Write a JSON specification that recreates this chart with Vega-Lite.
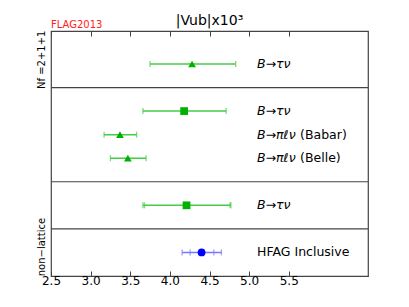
{
  "$schema": "https://vega.github.io/schema/vega-lite/v6.json",
  "autosize": "none",
  "width": 317,
  "height": 245,
  "padding": {"left": 51, "top": 31, "right": 41, "bottom": 31},
  "config": {
    "font": "DejaVu Sans",
    "view": {"stroke": "#444444", "strokeWidth": 1.2},
    "axis": {"labelFont": "DejaVu Sans", "grid": false}
  },
  "title": {"text": "|Vub|x10³", "fontSize": 14, "fontWeight": "normal", "font": "DejaVu Sans", "color": "#000000", "offset": 0, "dy": 8, "anchor": "middle"},
  "datasets": {
    "pts": [
      {"y": 9, "ital": "B→τν", "note": "", "x": 4.28, "lo": 3.75, "hi": 4.83, "series": "tri"},
      {"y": 7, "ital": "B→τν", "note": "", "x": 4.18, "lo": 3.66, "hi": 4.71, "series": "sq"},
      {"y": 6, "ital": "B→πℓν", "note": "(Babar)", "x": 3.37, "lo": 3.17, "hi": 3.58, "series": "tri"},
      {"y": 5, "ital": "B→πℓν", "note": "(Belle)", "x": 3.47, "lo": 3.25, "hi": 3.70, "series": "tri"},
      {"y": 3, "ital": "B→τν", "note": "", "x": 4.21, "lo": 3.66, "hi": 4.77, "lo2": 3.68, "hi2": 4.76, "series": "sq"},
      {"y": 1, "ital": "", "note": "HFAG Inclusive", "x": 4.40, "lo": 4.155, "hi": 4.65, "lo2": 4.256, "hi2": 4.555, "series": "circ"}
    ],
    "seps": [{"y": 2}, {"y": 4}, {"y": 8}]
  },
  "resolve": {"axis": {"x": "independent"}},
  "layer": [
    {
      "data": {"name": "seps"},
      "mark": {"type": "rule", "color": "#444444", "strokeWidth": 1.2},
      "encoding": {
        "y": {"field": "y", "type": "quantitative", "scale": {"domain": [0, 10.4], "nice": false, "zero": false},
          "axis": {"values": [1.25, 3, 6, 9.2], "title": null, "domain": false, "ticks": false, "labelAngle": -90, "labelAlign": "center", "labelBaseline": "bottom", "labelPadding": 5, "labelFontSize": 10, "labelColor": "#000000",
            "labelExpr": "datum.value < 2 ? 'non−lattice' : datum.value == 3 ? 'Nf =2' : datum.value == 6 ? 'Nf =2+1' : 'Nf =2+1+1'"}}
      }
    },
    {
      "data": {"name": "pts"},
      "mark": {"type": "rule", "strokeWidth": 1.5},
      "encoding": {
        "x": {"field": "lo", "type": "quantitative", "scale": {"domain": [2.5, 6.5], "nice": false, "zero": false},
          "axis": {"orient": "bottom", "values": [2.5, 3.0, 3.5, 4.0, 4.5, 5.0, 5.5], "format": ".1f", "title": null, "domain": false, "tickSize": -5, "tickColor": "#444444", "labelFontSize": 12, "labelColor": "#000000", "labelPadding": 4, "labelFlush": false}},
        "x2": {"field": "hi"},
        "y": {"field": "y", "type": "quantitative"},
        "color": {"field": "series", "type": "nominal", "scale": {"domain": ["tri", "sq", "circ"], "range": ["#44cc44", "#44cc44", "#7777ff"]}, "legend": null}
      }
    },
    {
      "data": {"name": "pts"},
      "mark": {"type": "tick", "orient": "vertical", "size": 6, "thickness": 1.3},
      "encoding": {
        "x": {"field": "lo", "type": "quantitative", "axis": {"orient": "top", "values": [2.5, 3.0, 3.5, 4.0, 4.5, 5.0, 5.5], "labels": false, "title": null, "domain": false, "tickSize": -5, "tickColor": "#444444"}},
        "y": {"field": "y", "type": "quantitative"},
        "color": {"field": "series", "type": "nominal", "legend": null}
      }
    },
    {
      "data": {"name": "pts"},
      "mark": {"type": "tick", "orient": "vertical", "size": 6, "thickness": 1.3},
      "encoding": {
        "x": {"field": "hi", "type": "quantitative", "axis": null},
        "y": {"field": "y", "type": "quantitative"},
        "color": {"field": "series", "type": "nominal", "legend": null}
      }
    },
    {
      "data": {"name": "pts"},
      "transform": [{"filter": "isValid(datum.lo2)"}],
      "mark": {"type": "tick", "orient": "vertical", "size": 6, "thickness": 1.3},
      "encoding": {
        "x": {"field": "lo2", "type": "quantitative", "axis": null},
        "y": {"field": "y", "type": "quantitative"},
        "color": {"field": "series", "type": "nominal", "legend": null}
      }
    },
    {
      "data": {"name": "pts"},
      "transform": [{"filter": "isValid(datum.hi2)"}],
      "mark": {"type": "tick", "orient": "vertical", "size": 6, "thickness": 1.3},
      "encoding": {
        "x": {"field": "hi2", "type": "quantitative", "axis": null},
        "y": {"field": "y", "type": "quantitative"},
        "color": {"field": "series", "type": "nominal", "legend": null}
      }
    },
    {
      "data": {"name": "pts"},
      "mark": {"type": "point", "filled": true, "opacity": 1, "size": 60},
      "encoding": {
        "x": {"field": "x", "type": "quantitative", "axis": null},
        "y": {"field": "y", "type": "quantitative"},
        "shape": {"field": "series", "type": "nominal", "scale": {"domain": ["tri", "sq", "circ"], "range": ["triangle-up", "square", "circle"]}, "legend": null},
        "fill": {"field": "series", "type": "nominal", "scale": {"domain": ["tri", "sq", "circ"], "range": ["#00b000", "#00b000", "#0000ff"]}, "legend": null}
      }
    },
    {
      "data": {"name": "pts"},
      "mark": {"type": "text", "align": "left", "baseline": "middle", "fontSize": 12.5, "fontStyle": "italic", "font": "DejaVu Sans", "color": "#000000", "dx": 0},
      "encoding": {
        "x": {"datum": 5.1, "type": "quantitative", "axis": null},
        "y": {"field": "y", "type": "quantitative"},
        "text": {"field": "ital"}
      }
    },
    {
      "data": {"name": "pts"},
      "transform": [{"filter": "datum.ital != ''"}],
      "mark": {"type": "text", "align": "left", "baseline": "middle", "fontSize": 12.5, "font": "DejaVu Sans", "color": "#000000", "dx": 43},
      "encoding": {
        "x": {"datum": 5.1, "type": "quantitative", "axis": null},
        "y": {"field": "y", "type": "quantitative"},
        "text": {"field": "note"}
      }
    },
    {
      "data": {"name": "pts"},
      "transform": [{"filter": "datum.ital == ''"}],
      "mark": {"type": "text", "align": "left", "baseline": "middle", "fontSize": 12.5, "font": "DejaVu Sans", "color": "#000000"},
      "encoding": {
        "x": {"datum": 5.1, "type": "quantitative", "axis": null},
        "y": {"field": "y", "type": "quantitative"},
        "text": {"field": "note"}
      }
    },
    {
      "data": {"values": [{"t": "FLAG2013"}]},
      "mark": {"type": "text", "align": "left", "baseline": "bottom", "fontSize": 10, "font": "DejaVu Sans", "color": "#ff2020", "dy": -1},
      "encoding": {
        "x": {"datum": 2.5, "type": "quantitative", "axis": null},
        "y": {"datum": 10.4, "type": "quantitative"},
        "text": {"field": "t"}
      }
    }
  ]
}
